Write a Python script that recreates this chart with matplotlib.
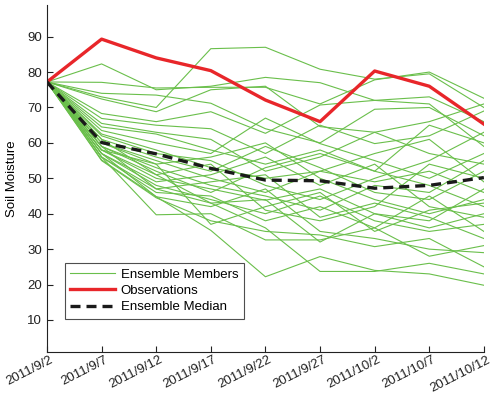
import matplotlib
matplotlib.use("Agg")
import matplotlib.pyplot as plt
import matplotlib.transforms as mtransforms

plt.rcParams["font.family"] = ["Liberation Sans", "DejaVu Sans"]

# datas no eixo x (a cada 5 dias)
datas = ["2011/9/2", "2011/9/7", "2011/9/12", "2011/9/17", "2011/9/22",
         "2011/9/27", "2011/10/2", "2011/10/7", "2011/10/12"]

observacoes = [77.2, 89.3, 84.0, 80.4, 72.1, 66.0, 80.3, 76.0, 65.3]
mediana = [77.2, 60.1, 56.9, 52.8, 49.5, 49.3, 47.2, 48.0, 50.2]

# membros do ensemble (lidos a olho)
membros = [
    [77.2, 73.0, 70.0, 86.6, 87.0, 80.8, 78.0, 79.5, 70.0],
    [77.2, 82.3, 75.0, 76.0, 78.5, 77.0, 72.0, 73.0, 66.0],
    [77.2, 77.1, 75.5, 75.7, 75.7, 71.0, 77.8, 80.0, 72.6],
    [77.2, 74.0, 73.5, 71.2, 64.0, 60.0, 69.5, 70.0, 62.0],
    [77.2, 72.4, 68.8, 75.0, 76.0, 64.6, 63.0, 66.0, 71.0],
    [77.2, 68.3, 66.0, 68.8, 62.7, 70.7, 72.0, 71.0, 59.0],
    [77.2, 66.9, 65.0, 64.0, 57.0, 65.0, 59.8, 62.0, 69.0],
    [77.2, 65.5, 63.0, 61.0, 52.0, 56.0, 63.0, 57.0, 54.0],
    [77.2, 64.5, 62.5, 58.0, 54.0, 58.0, 52.0, 65.0, 60.0],
    [77.2, 63.5, 60.0, 57.0, 67.0, 59.8, 55.0, 50.0, 57.0],
    [77.2, 62.5, 58.0, 53.0, 50.0, 52.0, 57.0, 61.0, 49.0],
    [77.2, 62.0, 57.0, 55.0, 48.0, 44.0, 50.0, 55.0, 63.0],
    [77.2, 61.0, 56.0, 52.0, 59.0, 53.0, 46.0, 44.0, 52.0],
    [77.2, 60.0, 55.0, 50.0, 46.0, 52.0, 49.0, 52.0, 46.0],
    [77.2, 60.0, 54.0, 56.0, 60.0, 50.0, 44.0, 40.0, 44.0],
    [77.2, 59.0, 53.0, 48.0, 45.0, 41.0, 48.0, 46.0, 55.0],
    [77.2, 59.0, 52.0, 46.0, 53.0, 57.0, 52.0, 48.0, 42.0],
    [77.2, 58.0, 51.0, 54.0, 41.0, 38.0, 42.0, 54.0, 50.0],
    [77.2, 58.0, 50.0, 47.0, 43.8, 47.0, 40.0, 38.0, 47.0],
    [77.2, 57.0, 49.0, 51.0, 56.0, 48.0, 54.0, 42.0, 39.0],
    [77.2, 57.0, 48.0, 44.0, 40.0, 45.0, 38.0, 35.0, 37.0],
    [77.2, 56.0, 47.0, 49.0, 51.0, 39.0, 43.0, 39.0, 33.0],
    [77.2, 56.0, 46.0, 45.0, 38.0, 42.0, 36.0, 45.0, 35.0],
    [77.2, 55.2, 44.8, 42.0, 47.0, 35.0, 33.0, 30.0, 29.0],
    [77.2, 55.0, 44.5, 38.0, 35.0, 34.0, 30.7, 33.0, 25.0],
    [77.2, 56.0, 39.7, 40.0, 32.6, 32.6, 36.0, 28.0, 31.0],
    [77.2, 57.0, 44.8, 35.3, 22.2, 27.9, 24.0, 23.0, 19.8],
    [77.2, 59.0, 47.0, 43.0, 36.0, 23.7, 23.7, 26.0, 23.0],
    [77.2, 61.0, 51.0, 43.0, 44.0, 32.0, 40.0, 36.0, 40.0],
    [77.2, 58.0, 54.0, 37.0, 42.0, 46.0, 35.0, 41.0, 43.0],
]

x = list(range(len(datas)))

fig = plt.figure(figsize=(4.92, 3.98), dpi=100)
ax = fig.add_axes([0.0955, 0.116, 0.888, 0.872])

for i, m in enumerate(membros):
    ax.plot(x, m, color="#6abf4b", lw=0.8,
            label="Ensemble Members" if i == 0 else None)
ax.plot(x, observacoes, color="#e8262a", lw=2.4, label="Observations")
ax.plot(x, mediana, color="#1a1a1a", lw=2.4, dashes=(3, 1.8),
        label="Ensemble Median")

ax.set_xlim(0, len(datas) - 1)
ax.set_ylim(1, 99)
ax.set_yticks(range(10, 100, 10))
ax.set_xticks(x)
ax.set_xticklabels(datas, rotation=27, ha="right", va="top",
                   rotation_mode="anchor")
ax.tick_params(direction="in", length=4, labelsize=9.5, colors="#222222")
ax.tick_params(axis="x", pad=1.5)
desloc = mtransforms.ScaledTranslation(2.5 / 100, 0, fig.dpi_scale_trans)
for lbl in ax.get_xticklabels():
    lbl.set_transform(lbl.get_transform() + desloc)
ax.set_ylabel("Soil Moisture", fontsize=9.5, labelpad=7)

for lado in ["top", "right"]:
    ax.spines[lado].set_visible(False)
for lado in ["left", "bottom"]:
    ax.spines[lado].set_color("#222222")
    ax.spines[lado].set_linewidth(0.8)

leg = ax.legend(loc="lower left", bbox_to_anchor=(0.025, 0.075), fontsize=9.5,
                frameon=True, fancybox=False, handlelength=3.4,
                borderpad=0.45, labelspacing=0.3, handletextpad=0.4)
leg.get_frame().set_edgecolor("#222222")
leg.get_frame().set_linewidth(0.8)

fig.savefig("out.png", dpi=100)
